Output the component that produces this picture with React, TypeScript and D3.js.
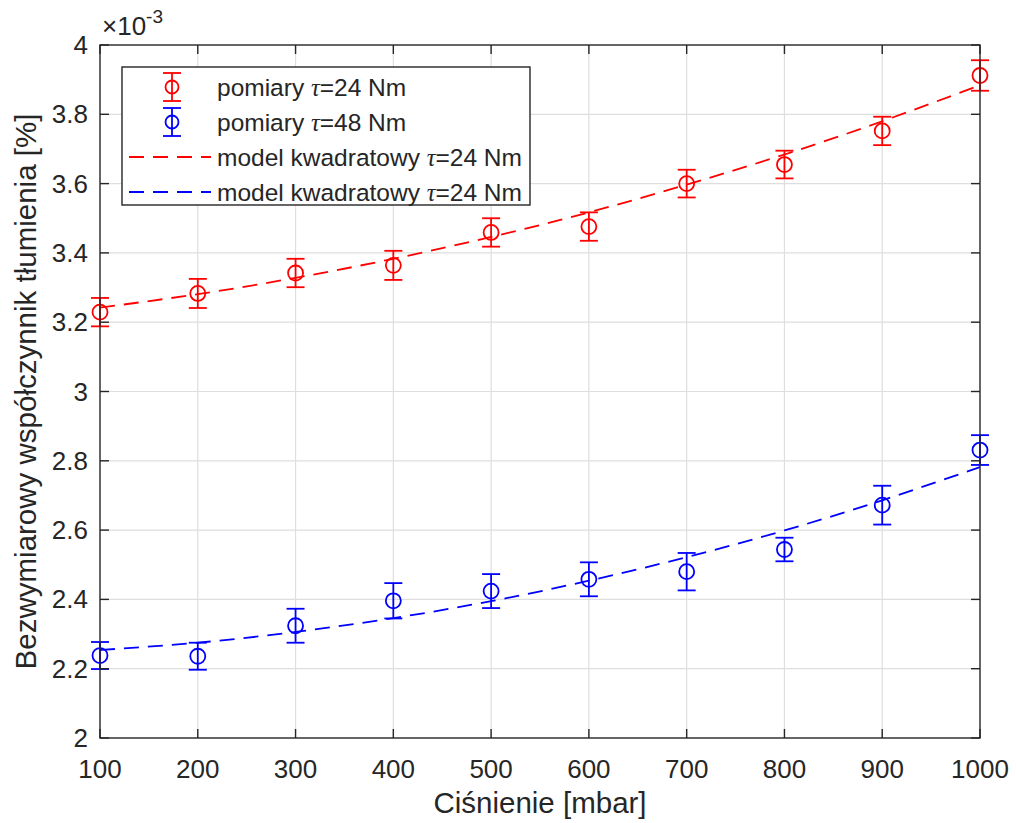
import React from "react";
import * as d3 from "d3";

const pressure = [100, 200, 300, 400, 500, 600, 700, 800, 900, 1000];
const red = [3.229, 3.283, 3.342, 3.364, 3.459, 3.476, 3.6, 3.655, 3.752, 3.912];
const redErr = [0.041, 0.042, 0.041, 0.042, 0.041, 0.041, 0.04, 0.04, 0.041, 0.044];
const blue = [2.238, 2.236, 2.324, 2.396, 2.424, 2.458, 2.48, 2.544, 2.672, 2.831];
const blueErr = [0.039, 0.039, 0.049, 0.051, 0.049, 0.049, 0.054, 0.034, 0.056, 0.043];
const redModel = [3.242, 3.281, 3.328, 3.383, 3.446, 3.517, 3.597, 3.684, 3.78, 3.884];
const blueModel = [2.254, 2.275, 2.306, 2.346, 2.395, 2.454, 2.522, 2.599, 2.686, 2.782];
const xTicks = [100, 200, 300, 400, 500, 600, 700, 800, 900, 1000];
const yTicks = [2, 2.2, 2.4, 2.6, 2.8, 3, 3.2, 3.4, 3.6, 3.8, 4];

const legendItems = [
  { kind: "err", color: "#ff0000", pre: "pomiary ", post: "=24 Nm" },
  { kind: "err", color: "#0000ff", pre: "pomiary ", post: "=48 Nm" },
  { kind: "line", color: "#ff0000", pre: "model kwadratowy ", post: "=24 Nm" },
  { kind: "line", color: "#0000ff", pre: "model kwadratowy ", post: "=24 Nm" },
];

const W = 1016, H = 823;
const L = 100, R = 980, T = 45, B = 738;
const AX = "#262626";
const FONT = "'Liberation Sans', Arial, Helvetica, sans-serif";

export default function App() {
  const x = d3.scaleLinear().domain([100, 1000]).range([L, R]);
  const y = d3.scaleLinear().domain([2, 4]).range([B, T]);
  const line = d3
    .line<number>()
    .x((_, i) => x(pressure[i]))
    .y((d) => y(d))
    .curve(d3.curveNatural);
  const tick = 9;
  const cap = 9;
  const rr = 7.5;

  const series = [
    { vals: red, err: redErr, color: "#ff0000" },
    { vals: blue, err: blueErr, color: "#0000ff" },
  ];

  return (
    <svg width={W} height={H} style={{ position: "absolute", left: 0, top: 0, background: "#fff" }}>
      <rect x={0} y={0} width={W} height={H} fill="#fff" />
      {/* grid */}
      {xTicks.slice(1, -1).map((t) => (
        <line key={"gx" + t} x1={x(t)} x2={x(t)} y1={T} y2={B} stroke="#dedede" strokeWidth={1.2} />
      ))}
      {yTicks.slice(1, -1).map((t) => (
        <line key={"gy" + t} x1={L} x2={R} y1={y(t)} y2={y(t)} stroke="#dedede" strokeWidth={1.2} />
      ))}
      {/* model lines */}
      <path d={line(redModel) || ""} fill="none" stroke="#ff0000" strokeWidth={1.8} strokeDasharray="15,9" />
      <path d={line(blueModel) || ""} fill="none" stroke="#0000ff" strokeWidth={1.8} strokeDasharray="15,9" />
      {/* error bars */}
      {series.map((s, si) =>
        s.vals.map((v, i) => {
          const cx = x(pressure[i]);
          const y0 = y(v - s.err[i]);
          const y1 = y(v + s.err[i]);
          return (
            <g key={"e" + si + "-" + i} stroke={s.color} strokeWidth={1.8} fill="none">
              <line x1={cx} x2={cx} y1={y0} y2={y1} />
              <line x1={cx - cap} x2={cx + cap} y1={y0} y2={y0} />
              <line x1={cx - cap} x2={cx + cap} y1={y1} y2={y1} />
              <circle cx={cx} cy={y(v)} r={rr} />
            </g>
          );
        })
      )}
      {/* box */}
      <rect x={L} y={T} width={R - L} height={B - T} fill="none" stroke={AX} strokeWidth={1.4} />
      {/* ticks */}
      {xTicks.map((t) => (
        <g key={"tx" + t} stroke={AX} strokeWidth={1.4}>
          <line x1={x(t)} x2={x(t)} y1={B} y2={B - tick} />
          <line x1={x(t)} x2={x(t)} y1={T} y2={T + tick} />
        </g>
      ))}
      {yTicks.map((t) => (
        <g key={"ty" + t} stroke={AX} strokeWidth={1.4}>
          <line x1={L} x2={L + tick} y1={y(t)} y2={y(t)} />
          <line x1={R} x2={R - tick} y1={y(t)} y2={y(t)} />
        </g>
      ))}
      {/* tick labels */}
      <g fontFamily={FONT} fontSize={26} fill={AX}>
        {xTicks.map((t) => (
          <text key={"lx" + t} x={x(t)} y={778} textAnchor="middle">
            {t}
          </text>
        ))}
        {yTicks.map((t) => (
          <text key={"ly" + t} x={88} y={y(t)} textAnchor="end" dominantBaseline="central">
            {d3.format("~g")(t)}
          </text>
        ))}
      </g>
      {/* exponent */}
      <text x={102} y={35} fontFamily={FONT} fontSize={26} fill={AX}>
        ×10
        <tspan dy={-12} fontSize={19}>-3</tspan>
      </text>
      {/* axis labels */}
      <text x={540} y={813} textAnchor="middle" fontFamily={FONT} fontSize={29.5} fill={AX}>
        Ciśnienie [mbar]
      </text>
      <text
        transform={`translate(36,${(T + B) / 2}) rotate(-90)`}
        textAnchor="middle"
        fontFamily={FONT}
        fontSize={29.5}
        fill={AX}
      >
        Bezwymiarowy współczynnik tłumienia [%]
      </text>
      {/* legend */}
      <rect x={122} y={67} width={408} height={138} fill="#fff" stroke={AX} strokeWidth={1.4} />
      {legendItems.map((it, i) => {
        const cy = 87 + i * 35;
        return (
          <g key={"lg" + i}>
            {it.kind === "err" ? (
              <g stroke={it.color} strokeWidth={1.8} fill="none">
                <line x1={172} x2={172} y1={cy - 14} y2={cy + 14} />
                <line x1={172 - cap} x2={172 + cap} y1={cy - 14} y2={cy - 14} />
                <line x1={172 - cap} x2={172 + cap} y1={cy + 14} y2={cy + 14} />
                <circle cx={172} cy={cy} r={6.5} />
              </g>
            ) : (
              <line x1={129} x2={211} y1={cy} y2={cy} stroke={it.color} strokeWidth={1.8} strokeDasharray="15,9" />
            )}
            <text x={217} y={cy} dominantBaseline="central" fontFamily={FONT} fontSize={24.5} fill={AX}>
              {it.pre}
              <tspan fontFamily="'Liberation Serif', 'Times New Roman', serif" fontStyle="italic">τ</tspan>
              {it.post}
            </text>
          </g>
        );
      })}
    </svg>
  );
}
